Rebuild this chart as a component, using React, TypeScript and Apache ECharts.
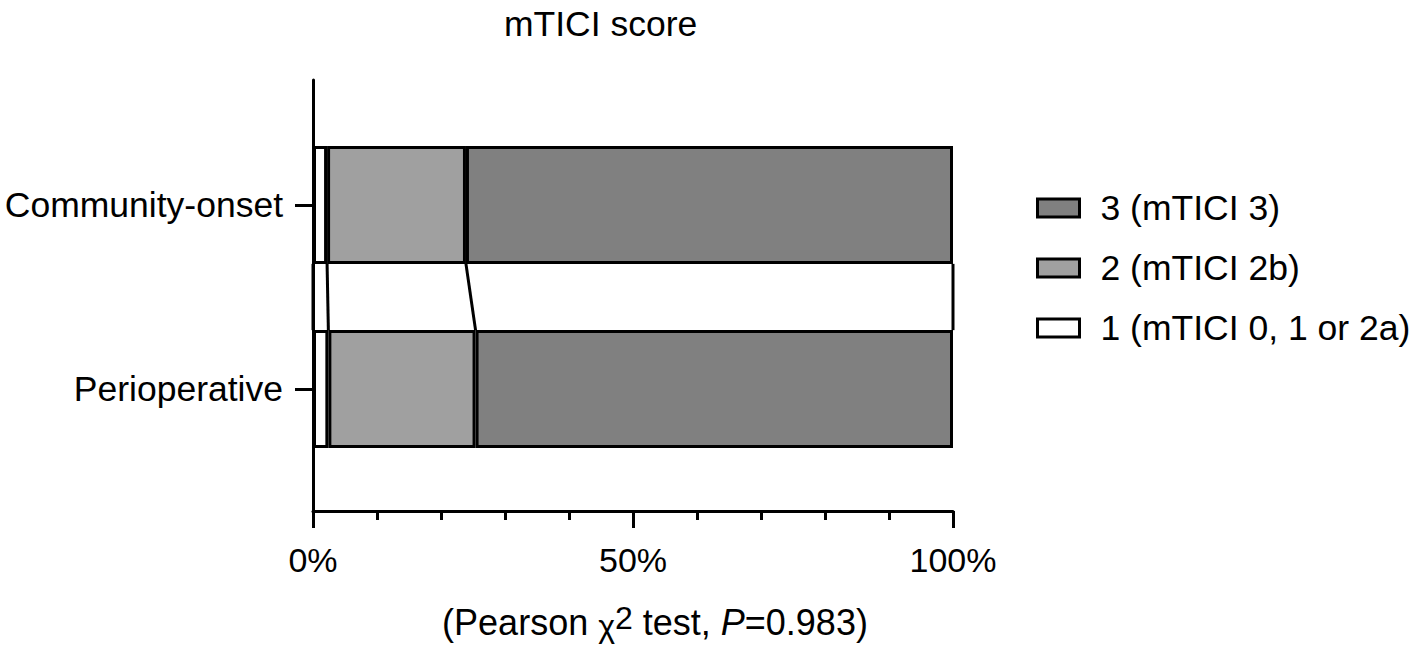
import React, { useEffect, useRef } from 'react';
import * as echarts from 'echarts';

const categories = ['Community-onset', 'Perioperative'];
const seriesNames = ['1 (mTICI 0, 1 or 2a)', '2 (mTICI 2b)', '3 (mTICI 3)'];
const score1 = [2.2, 2.4];
const score2 = [21.7, 23.0];
const score3 = [76.1, 74.6];
const seriesValues = [score1, score2, score3];
const seriesColors = ['#ffffff', '#a0a0a0', '#808080'];
const xMin = 0;
const xMax = 100;
const xInterval = 50;
const titleText = 'mTICI score';

const FONT = '"Liberation Sans", Arial, Helvetica, sans-serif';
const BAR_RATIO = 0.64;

export default function App() {
  const ref = useRef<HTMLDivElement>(null);
  useEffect(() => {
    if (!ref.current) return;
    const chart = echarts.init(ref.current, null, { renderer: 'svg' });

    const connectors: number[][] = [];
    let c0 = 0;
    let c1 = 0;
    connectors.push([0, 0, 0]);
    for (let i = 0; i < seriesValues.length; i++) {
      c0 += seriesValues[i][0];
      c1 += seriesValues[i][1];
      connectors.push([c0, c1, 0]);
    }

    const barSeries = seriesNames.map((name, i) => ({
      name,
      type: 'bar',
      stack: 'total',
      xAxisIndex: 0,
      yAxisIndex: 0,
      barWidth: BAR_RATIO * 100 + '%',
      data: seriesValues[i],
      itemStyle: { color: seriesColors[i], borderColor: '#000', borderWidth: 3 },
      emphasis: { disabled: true },
    }));

    const option: any = {
      animation: false,
      textStyle: { fontFamily: FONT },
      title: {
        text: titleText,
        left: 499,
        top: 1,
        textStyle: { fontFamily: FONT, fontSize: 35.5, fontWeight: 'normal', color: '#000' },
      },
      legend: {
        orient: 'vertical',
        left: 1031,
        top: 183,
        icon: 'rect',
        itemWidth: 42,
        itemHeight: 18,
        itemGap: 20,
        data: [seriesNames[2], seriesNames[1], seriesNames[0]],
        itemStyle: { borderColor: '#000', borderWidth: 3 },
        textStyle: { fontFamily: FONT, fontSize: 35.5, color: '#000', lineHeight: 40, padding: [0, 0, 0, 16] },
        selectedMode: false,
      },
      grid: [
        { left: 313, right: 464, top: 113, height: 368, containLabel: false, outerBoundsMode: 'none' },
        { left: 313, right: 464, top: 80, height: 431, containLabel: false, outerBoundsMode: 'none' },
      ],
      xAxis: [
        { gridIndex: 0, type: 'value', min: xMin, max: xMax, show: false },
        {
          gridIndex: 1,
          type: 'value',
          min: xMin,
          max: xMax,
          interval: xInterval,
          splitLine: { show: false },
          axisLine: { show: true, lineStyle: { color: '#000', width: 3 } },
          axisTick: { show: true, length: 17, lineStyle: { color: '#000', width: 3 } },
          minorTick: { show: true, splitNumber: 5, length: 9, lineStyle: { color: '#000', width: 3 } },
          axisLabel: {
            formatter: (v: number) => v + '%',
            fontFamily: FONT,
            fontSize: 34,
            color: '#000',
            margin: 32,
          },
          name: '(Pearson {chi|χ}{sup|2} test, {it|P}=0.983)',
          nameLocation: 'middle',
          nameGap: 91,
          nameTextStyle: {
            fontFamily: FONT,
            fontSize: 36,
            color: '#000',
            lineHeight: 40,
            padding: [0, 0, 0, 44],
            rich: {
              chi: { fontFamily: FONT, fontSize: 32, color: '#000', lineHeight: 40, verticalAlign: 'bottom', padding: [3, 0, 0, 0] },
              sup: { fontFamily: FONT, fontSize: 32, color: '#000', lineHeight: 40, verticalAlign: 'top', padding: [0, 0, 8, 0] },
              it: { fontFamily: FONT, fontSize: 36, color: '#000', lineHeight: 40, fontStyle: 'italic' },
            },
          },
        },
      ],
      yAxis: [
        {
          gridIndex: 0,
          type: 'category',
          inverse: true,
          data: categories,
          axisLine: { show: false },
          axisTick: { show: true, alignWithLabel: true, length: 18, lineStyle: { color: '#000', width: 3 } },
          axisLabel: { fontFamily: FONT, fontSize: 35.5, color: '#000', margin: 30 },
        },
        {
          gridIndex: 1,
          type: 'value',
          min: 0,
          max: 1,
          axisLine: { show: true, lineStyle: { color: '#000', width: 3 } },
          axisTick: { show: false },
          axisLabel: { show: false },
          splitLine: { show: false },
        },
      ],
      series: [
        ...barSeries,
        {
          type: 'custom',
          name: 'connectors',
          xAxisIndex: 0,
          yAxisIndex: 0,
          clip: false,
          silent: true,
          encode: { x: [0, 1], y: 2 },
          data: connectors,
          renderItem: (params: any, api: any) => {
            const a = api.value(0);
            const b = api.value(1);
            const p1 = api.coord([a, 0]);
            const p2 = api.coord([b, 1]);
            const band = api.size([0, 1])[1];
            const half = (band * BAR_RATIO) / 2;
            return {
              type: 'line',
              shape: { x1: p1[0], y1: p1[1] + half, x2: p2[0], y2: p2[1] - half },
              style: { stroke: '#000', lineWidth: 3 },
            };
          },
        },
      ],
    };
    chart.setOption(option);
    return () => chart.dispose();
  }, []);
  return (
    <div
      ref={ref}
      style={{ position: 'fixed', left: 0, top: 0, width: 1417, height: 649, background: '#fff' }}
    />
  );
}
